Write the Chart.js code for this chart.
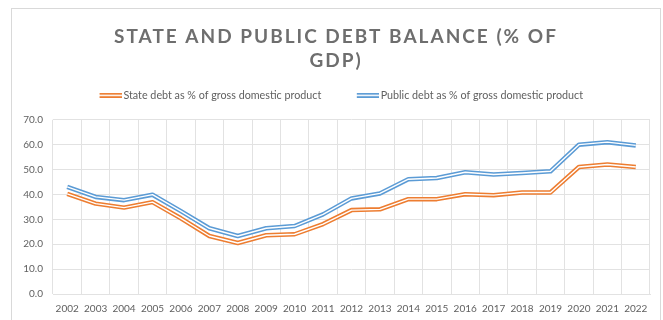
<!DOCTYPE html>
<html>
<head>
<meta charset="utf-8">
<script src="https://cdn.jsdelivr.net/npm/chart.js@4"></script>
<style>
  html, body { margin: 0; padding: 0; background: #fff; }
  #wrap { position: relative; width: 663px; height: 320px; overflow: hidden; }
  #frame { position: absolute; left: 11px; top: 8px; width: 648px; height: 340px; border: 1px solid #d9d9d9; }
  canvas { position: absolute; left: 0; top: 0; }
</style>
</head>
<body>
<div id="wrap">
  <div id="frame"></div>
  <canvas id="debtChart" width="663" height="320"></canvas>
</div>
<script>
const years = ['2002', '2003', '2004', '2005', '2006', '2007', '2008', '2009', '2010', '2011', '2012',
               '2013', '2014', '2015', '2016', '2017', '2018', '2019', '2020', '2021', '2022'];

// debt as % of GDP
const stateDebt  = [40.2, 36.3, 34.7, 36.9, 30.4, 23.3, 20.5, 23.6, 24.0, 28.1, 33.7,
                    34.0, 38.1, 38.1, 40.1, 39.7, 40.8, 40.8, 51.0, 52.0, 51.0];
const publicDebt = [43.0, 39.0, 37.7, 39.9, 33.3, 26.4, 23.3, 26.4, 27.3, 32.0, 38.4,
                    40.4, 46.1, 46.6, 48.9, 48.0, 48.6, 49.3, 60.0, 61.0, 59.7];

const yMin = 0;
const yMax = 70;
const yStep = 10;

const seriesNames = ['State debt as % of gross domestic product', 'Public debt as % of gross domestic product'];
const orange = '#ED7D31';
const blue = '#5B9BD5';
const gridColor = '#e2e2e2';
const textColor = '#606060';

// legend marker: two thin strands at the right end of the image,
// so the marker sits right next to its label
function doubleLineIcon(color) {
    const c = document.createElement('canvas');
    c.width = 36;
    c.height = 5;
    const g = c.getContext('2d');
    g.fillStyle = color;
    g.fillRect(14, 0, 22, 5);
    g.fillStyle = '#fff';
    g.fillRect(14, 1.75, 22, 1.5);
    return c;
}

function strand(label, data, color, width, order, icon) {
    return {
        label: label,
        data: data,
        borderColor: color,
        backgroundColor: color,
        borderWidth: width,
        borderJoinStyle: 'round',
        pointRadius: 0,
        pointStyle: icon,
        tension: 0,
        fill: false,
        order: order
    };
}

// the thin white strand on top splits each line into a double line
const datasets = [
    strand(seriesNames[0], stateDebt, orange, 4.5, 1, doubleLineIcon(orange)),
    strand(seriesNames[1], publicDebt, blue, 4.5, 1, doubleLineIcon(blue)),
    strand('', stateDebt, '#ffffff', 1.4, 0),
    strand('', publicDebt, '#ffffff', 1.4, 0)
];

// spaced-out title letters, and some extra room under the legend row
const layoutTweaks = {
    id: 'layoutTweaks',
    afterInit(chart) {
        const block = chart.titleBlock;
        if (block) {
            const draw = block.draw;
            block.draw = function () {
                const ctx = chart.ctx;
                ctx.save();
                ctx.letterSpacing = '2px';
                draw.apply(this, arguments);
                ctx.restore();
            };
        }
        const legend = chart.legend;
        if (legend) {
            const fit = legend.fit;
            legend.fit = function () {
                fit.apply(this, arguments);
                this.height += 9;
            };
        }
    }
};

const ctx = document.getElementById('debtChart').getContext('2d');

new Chart(ctx, {
    type: 'line',
    data: {
        labels: years,
        datasets: datasets
    },
    options: {
        responsive: false,
        animation: false,
        events: [],
        layout: { padding: { left: 22, right: 13, top: 0, bottom: 0 } },
        plugins: {
            title: {
                display: true,
                text: ['STATE AND PUBLIC DEBT BALANCE (% OF', 'GDP)'],
                color: '#6e6e6e',
                font: { family: 'Lato', size: 19, weight: 'bold', lineHeight: 24 / 19 },
                padding: { top: 25, bottom: -8 }
            },
            legend: {
                display: true,
                position: 'top',
                labels: {
                    usePointStyle: true,
                    pointStyleWidth: 29,
                    padding: 25,
                    color: textColor,
                    font: { family: 'Lato', size: 10.75 },
                    filter: item => item.datasetIndex < 2
                }
            },
            tooltip: { enabled: false }
        },
        scales: {
            x: {
                offset: true,
                grid: { offset: true, color: gridColor, drawTicks: false },
                border: { color: gridColor },
                ticks: {
                    color: textColor,
                    font: { family: 'Lato', size: 10 },
                    padding: 9,
                    maxRotation: 0,
                    autoSkip: false
                },
                afterFit: scale => { scale.height = 26; }
            },
            y: {
                min: yMin,
                max: yMax,
                grid: { color: gridColor, drawTicks: false },
                border: { display: false },
                ticks: {
                    stepSize: yStep,
                    color: textColor,
                    font: { family: 'Lato', size: 10 },
                    padding: 10,
                    callback: v => v.toFixed(1)
                },
                afterFit: scale => { scale.width = 31; }
            }
        }
    },
    plugins: [layoutTweaks]
});
</script>
</body>
</html>
